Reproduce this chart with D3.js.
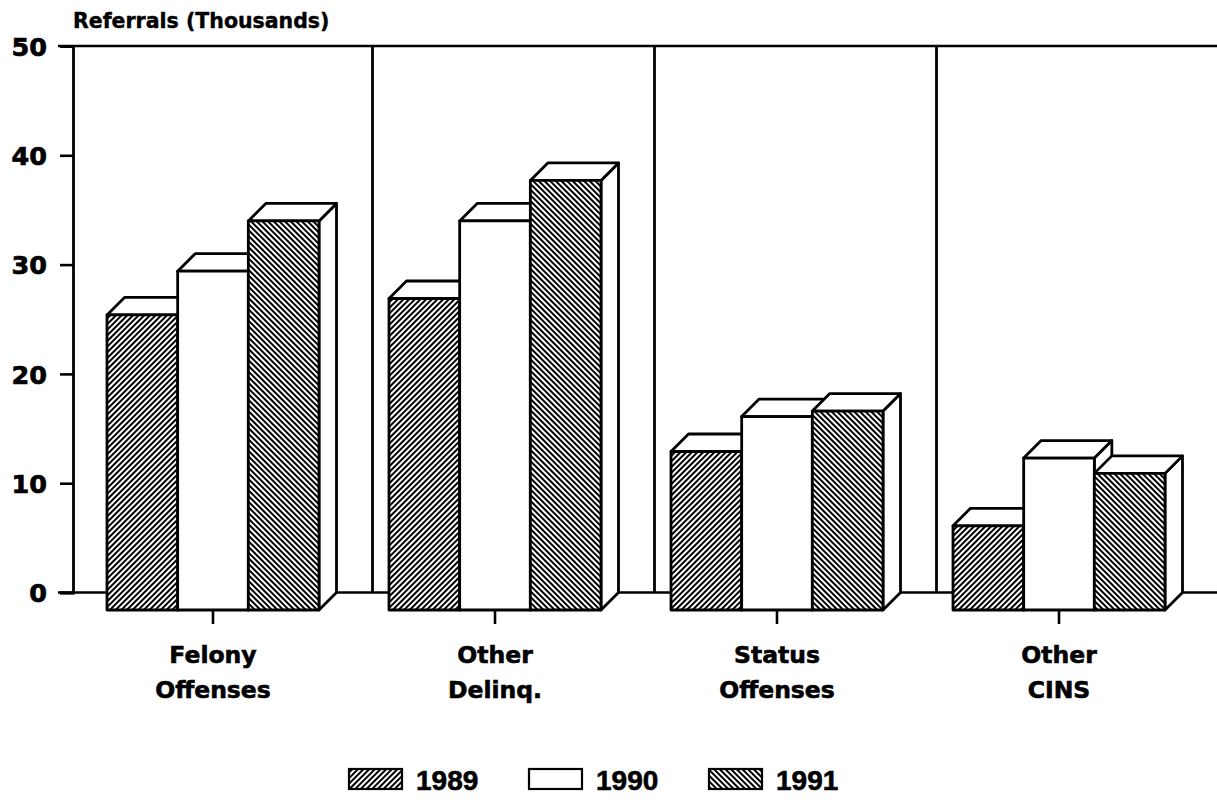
<!DOCTYPE html>
<html>
<head>
<meta charset="utf-8">
<script src="https://cdn.jsdelivr.net/npm/d3@7"></script>
<style>
  html, body { margin: 0; padding: 0; background: #fff; }
  svg { display: block; }
</style>
</head>
<body>
<svg id="chart" width="1217" height="804"></svg>
<script>
// ---- data ----
const categories = ["Felony Offenses", "Other Delinq.", "Status Offenses", "Other CINS"];
const categoryLines = [["Felony", "Offenses"], ["Other", "Delinq."], ["Status", "Offenses"], ["Other", "CINS"]];
const years = ["1989", "1990", "1991"];
const values1989 = [27.0, 28.5, 14.5, 7.7];
const values1990 = [31.0, 35.6, 17.7, 13.9];
const values1991 = [35.6, 39.3, 18.2, 12.5];
const yTicks = [0, 10, 20, 30, 40, 50];
const yTitle = "Referrals (Thousands)";

const seriesValues = [values1989, values1990, values1991];
const fills = ["url(#hatchFwd)", "#ffffff", "url(#hatchBack)"];

// ---- layout ----
const W = 1217, H = 804;
const depth = 17.5;          // 3D offset (right / up)
const axisX = 73;
const svg = d3.select("#chart");
const FONT = "'DejaVu Sans', sans-serif";

const y = d3.scaleLinear().domain([0, 50]).range([592.5, 46]);
// front-plane category centres
const x = d3.scalePoint().domain(categories).range([213, 1059]);
const inner = d3.scaleBand().domain(years).range([-106, 106]).padding(0);

// ---- patterns ----
const defs = svg.append("defs");
function hatch(id, angle) {
  const s = 4.0;
  const p = defs.append("pattern").attr("id", id)
    .attr("patternUnits", "userSpaceOnUse")
    .attr("width", s).attr("height", s)
    .attr("patternTransform", `rotate(${angle})`);
  p.append("rect").attr("width", s).attr("height", s).attr("fill", "#fff");
  p.append("line").attr("x1", 1).attr("y1", -1).attr("x2", 1).attr("y2", s + 1)
    .attr("stroke", "#000").attr("stroke-width", 2.0);
}
hatch("hatchFwd", 45);
hatch("hatchBack", -45);

svg.append("rect").attr("width", W).attr("height", H).attr("fill", "#fff");

// ---- back frame ----
const frame = svg.append("g").attr("stroke", "#000").attr("fill", "none");
frame.append("line").attr("x1", 58).attr("x2", W).attr("y1", y(50)).attr("y2", y(50)).attr("stroke-width", 2.6);
frame.append("line").attr("x1", 58).attr("x2", W).attr("y1", y(0)).attr("y2", y(0)).attr("stroke-width", 2.6);

// y axis via d3
const yAxis = d3.axisLeft(y).tickValues(yTicks).tickSize(13).tickPadding(13)
  .tickFormat(d3.format("d"));
const gy = svg.append("g").attr("transform", `translate(${axisX},0)`).call(yAxis);
gy.select(".domain").attr("stroke", "#000").attr("stroke-width", 2.8);
gy.selectAll(".tick line").attr("stroke", "#000").attr("stroke-width", 2.6);
gy.selectAll(".tick text")
  .attr("font-family", FONT).attr("font-weight", "bold").attr("font-size", 25.5)
  .attr("fill", "#000").attr("stroke", "#000").attr("stroke-width", 0.7)
  .attr("dy", "0.36em");

// dividers between categories (back plane)
const cats = categories;
for (let i = 1; i < cats.length; i++) {
  const xm = (x(cats[i - 1]) + x(cats[i])) / 2 + depth + 1;
  frame.append("line").attr("x1", xm).attr("x2", xm).attr("y1", y(50)).attr("y2", y(0))
    .attr("stroke-width", 2.8);
}

// title
svg.append("text").attr("x", axisX).attr("y", 28)
  .attr("font-family", FONT).attr("font-weight", "bold").attr("font-size", 20.5)
  .attr("stroke", "#000").attr("stroke-width", 0.4)
  .text(yTitle);

// ---- 3D bars ----
const bars = svg.append("g").attr("stroke", "#000").attr("stroke-width", 2.8)
  .attr("stroke-linejoin", "round");
categories.forEach((cat, ci) => {
  years.forEach((yr, si) => {
    const v = seriesValues[si][ci];
    const xl = x(cat) + inner(yr);
    const xr = xl + inner.bandwidth();
    const yt = y(v) + depth;
    const yb = y(0) + depth;
    // side face
    bars.append("polygon")
      .attr("points", [[xr, yt], [xr + depth, yt - depth], [xr + depth, yb - depth], [xr, yb]].map(p => p.join(",")).join(" "))
      .attr("fill", "#fff");
    // top face
    bars.append("polygon")
      .attr("points", [[xl, yt], [xl + depth, yt - depth], [xr + depth, yt - depth], [xr, yt]].map(p => p.join(",")).join(" "))
      .attr("fill", "#fff");
    // front face
    bars.append("rect").attr("x", xl).attr("y", yt).attr("width", xr - xl).attr("height", yb - yt)
      .attr("fill", fills[si]);
  });
});

// category ticks & labels
const xAxisG = svg.append("g");
categories.forEach((cat, ci) => {
  const cx = x(cat);
  xAxisG.append("line").attr("x1", cx).attr("x2", cx)
    .attr("y1", y(0) + depth).attr("y2", y(0) + depth + 14)
    .attr("stroke", "#000").attr("stroke-width", 2.6);
  const t = xAxisG.append("text").attr("text-anchor", "middle")
    .attr("font-family", FONT).attr("font-weight", "bold").attr("font-size", 23.5)
    .attr("stroke", "#000").attr("stroke-width", 0.6);
  categoryLines[ci].forEach((ln, li) => {
    t.append("tspan").attr("x", cx).attr("y", 663 + li * 35).text(ln);
  });
});

// ---- legend ----
const legend = svg.append("g");
const legendX = d3.scalePoint().domain(years).range([349, 709]);
years.forEach((yr, si) => {
  const lx = legendX(yr);
  legend.append("rect").attr("x", lx).attr("y", 769).attr("width", 53).attr("height", 20)
    .attr("fill", fills[si]).attr("stroke", "#000").attr("stroke-width", 2.2);
  legend.append("text").attr("x", lx + 67).attr("y", 790)
    .attr("font-family", "'Liberation Sans', Arial, sans-serif").attr("font-weight", "bold")
    .attr("font-size", 28).attr("stroke", "#000").attr("stroke-width", 0.6).text(yr);
});
</script>
</body>
</html>
